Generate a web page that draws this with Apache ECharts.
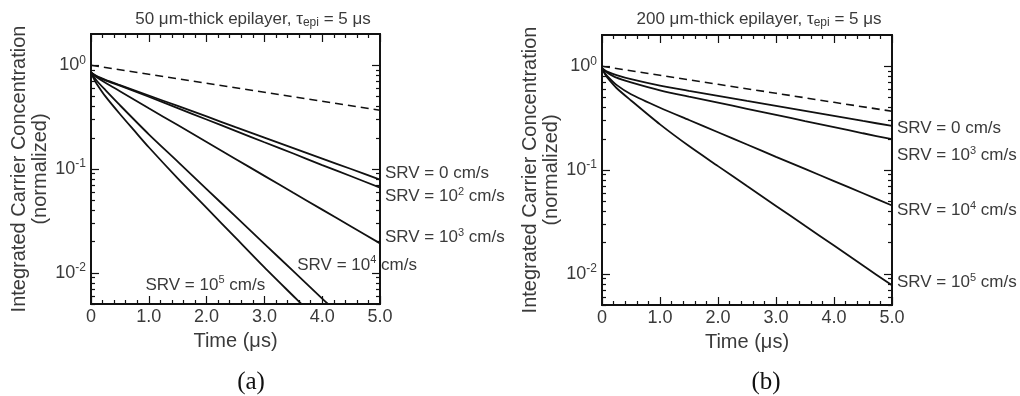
<!DOCTYPE html>
<html>
<head>
<meta charset="utf-8">
<script src="https://cdn.jsdelivr.net/npm/echarts@6/dist/echarts.min.js"></script>
<style>
  html, body { margin: 0; padding: 0; background: #ffffff; }
  #chart { width: 1020px; height: 396px; }
</style>
</head>
<body>
<div id="chart"></div>
<script>
// Decade ticks and 2..9 minor ticks of the log concentration axis
const decadeTicks = [0.01, 0.1, 1];
const minorLogTicks = [
  0.005, 0.006, 0.007, 0.008, 0.009,
  0.02, 0.03, 0.04, 0.05, 0.06, 0.07, 0.08, 0.09,
  0.2, 0.3, 0.4, 0.5, 0.6, 0.7, 0.8, 0.9
];

// Panel (a): 50 µm-thick epilayer — [time (µs), normalized concentration]
const aBulk = [[0, 1.0], [1, 0.819], [2, 0.670], [3, 0.549], [4, 0.449], [5, 0.368]];
const aSrv0 = [[0, 0.851], [0.1, 0.785], [0.25, 0.724], [0.5, 0.644], [1, 0.511], [1.5, 0.405],
  [2, 0.321], [2.5, 0.253], [3, 0.201], [3.5, 0.159], [4, 0.126], [4.5, 0.100], [5, 0.079]];
const aSrv1e2 = [[0, 0.851], [0.1, 0.776], [0.25, 0.716], [0.5, 0.635], [1, 0.497], [1.5, 0.386],
  [2, 0.300], [2.5, 0.233], [3, 0.181], [3.5, 0.141], [4, 0.109], [4.5, 0.0851], [5, 0.0661]];
const aSrv1e3 = [[0, 0.851], [0.1, 0.767], [0.25, 0.679], [0.5, 0.562], [1, 0.385], [1.5, 0.265],
  [2, 0.182], [2.5, 0.125], [3, 0.0859], [3.5, 0.0590], [4, 0.0406], [4.5, 0.0279], [5, 0.0192]];
const aSrv1e4 = [[0, 0.851], [0.1, 0.708], [0.25, 0.575], [0.5, 0.412], [1, 0.216], [1.5, 0.118],
  [2, 0.0641], [2.5, 0.0349], [3, 0.0190], [3.5, 0.01035], [4, 0.00564], [4.1, 0.005]];
const aSrv1e5 = [[0, 0.851], [0.05, 0.741], [0.1, 0.661], [0.25, 0.501], [0.5, 0.339], [0.75, 0.234],
  [1, 0.162], [1.5, 0.0813], [2, 0.0422], [2.5, 0.0218], [3, 0.01127], [3.5, 0.00597], [3.64, 0.005]];

// Panel (b): 200 µm-thick epilayer
const bBulk = [[0, 1.0], [1, 0.819], [2, 0.670], [3, 0.549], [4, 0.449], [5, 0.368]];
const bSrv0 = [[0, 0.955], [0.05, 0.912], [0.1, 0.881], [0.25, 0.822], [0.5, 0.750], [1, 0.650],
  [1.5, 0.579], [2, 0.519], [2.5, 0.463], [3, 0.415], [3.5, 0.372], [4, 0.333], [4.5, 0.297], [5, 0.266]];
const bSrv1e3 = [[0, 0.955], [0.05, 0.902], [0.1, 0.861], [0.25, 0.776], [0.5, 0.700], [1, 0.586],
  [1.5, 0.509], [2, 0.446], [2.5, 0.389], [3, 0.340], [3.5, 0.296], [4, 0.259], [4.5, 0.226], [5, 0.198]];
const bSrv1e4 = [[0, 0.955], [0.05, 0.861], [0.1, 0.794], [0.25, 0.661], [0.5, 0.537], [1, 0.398],
  [1.5, 0.303], [2, 0.231], [2.5, 0.176], [3, 0.134], [3.5, 0.1026], [4, 0.0782], [4.5, 0.0597], [5, 0.0455]];
const bSrv1e5 = [[0, 0.955], [0.05, 0.841], [0.1, 0.767], [0.25, 0.617], [0.5, 0.468], [1, 0.275],
  [1.5, 0.170], [2, 0.109], [2.5, 0.0700], [3, 0.0451], [3.5, 0.0290], [4, 0.0187], [4.5, 0.0120], [5, 0.00773]];

// Curve labels: SRV exponent ('' means SRV = 0)
const aLabels = ['', '2', '3', '4', '5'];
const bLabels = ['', '3', '4', '5'];

const FONT = "'Liberation Sans', Arial, Helvetica, sans-serif";
const TEXT = '#3a3a3a';
const INK = '#111111';

const supRich = {
  t: { fontFamily: FONT, fontSize: 17, color: TEXT },
  s: { fontFamily: FONT, fontSize: 11, color: TEXT, padding: [0, 0, 9, 0] }
};
function srvText(exp) {
  return exp === '' ? '{t|SRV = 0 cm/s}' : '{t|SRV = 10}{s|' + exp + '}{t| cm/s}';
}

function xAxes(g) {
  const common = {
    type: 'value', gridIndex: g, min: 0, max: 5, interval: 1,
    axisLine: { onZero: false, lineStyle: { color: INK, width: 1.8 } },
    axisTick: { inside: true, length: 8, lineStyle: { color: INK, width: 1.2 } },
    minorTick: { show: true, splitNumber: 5, length: 4, lineStyle: { color: INK, width: 1.2 } },
    splitLine: { show: false }
  };
  return [
    Object.assign({}, common, {
      position: 'bottom',
      name: 'Time (μs)', nameLocation: 'middle', nameGap: 27,
      nameTextStyle: { fontFamily: FONT, fontSize: 20, color: TEXT },
      axisLabel: {
        margin: 4, fontFamily: FONT, fontSize: 18, color: TEXT,
        formatter: v => (v === 0 ? '0' : v.toFixed(1))
      }
    }),
    Object.assign({}, common, { position: 'top', axisLabel: { show: false } })
  ];
}

function yAxes(g) {
  const base = {
    type: 'log', logBase: 10, gridIndex: g, min: 0.005, max: 2,
    splitLine: { show: false },
    minorTick: { show: false },
    axisLine: { onZero: false, lineStyle: { color: INK, width: 1.8 } }
  };
  const major = { inside: true, length: 8, customValues: decadeTicks, lineStyle: { color: INK, width: 1.2 } };
  const minor = { inside: true, length: 4, customValues: minorLogTicks, lineStyle: { color: INK, width: 1.2 } };
  return [
    Object.assign({}, base, {
      position: 'left', axisTick: major,
      name: 'Integrated Carrier Concentration\n(normalized)',
      nameLocation: 'middle', nameGap: 37,
      nameTextStyle: { fontFamily: FONT, fontSize: 20, lineHeight: 21, color: TEXT, align: 'center' },
      axisLabel: {
        margin: 5, customValues: decadeTicks,
        formatter: v => '{b|10}{s|' + Math.round(Math.log10(v)) + '}',
        rich: {
          b: { fontFamily: FONT, fontSize: 18, color: TEXT },
          s: { fontFamily: FONT, fontSize: 12, color: TEXT, padding: [0, 0, 10, 0] }
        }
      }
    }),
    Object.assign({}, base, { position: 'left', axisTick: minor, axisLabel: { show: false } }),
    Object.assign({}, base, { position: 'right', axisTick: major, axisLabel: { show: false } }),
    Object.assign({}, base, { position: 'right', axisTick: minor, axisLabel: { show: false } })
  ];
}

function curve(g, data, extra) {
  return Object.assign({
    type: 'line', xAxisIndex: 2 * g, yAxisIndex: 4 * g,
    data: data, showSymbol: false, smooth: 0.25, clip: true,
    lineStyle: { color: INK, width: 1.8 }, silent: true, animation: false
  }, extra || {});
}
function endLab(exp, dy) {
  return { show: true, formatter: srvText(exp), distance: 5, offset: [0, dy], rich: supRich };
}
// Label anchored at a point inside the plot (left edge of the text)
function midLab(t, v, exp) {
  return {
    symbol: 'circle', symbolSize: 1, silent: true, animation: false,
    itemStyle: { color: 'rgba(0,0,0,0)' },
    label: { show: true, position: 'right', distance: 0, formatter: srvText(exp), rich: supRich },
    data: [{ coord: [t, v], value: 0 }]
  };
}

const dashed = { color: INK, width: 1.6, type: [8, 5] };

const option = {
  animation: false,
  backgroundColor: '#ffffff',
  grid: [
    { left: 91, top: 34, width: 289, height: 270 },
    { left: 602, top: 35, width: 290, height: 270 }
  ],
  xAxis: xAxes(0).concat(xAxes(1)),
  yAxis: yAxes(0).concat(yAxes(1)),
  series: [
    curve(0, aBulk, { lineStyle: dashed, smooth: false }),
    curve(0, aSrv0, { endLabel: endLab(aLabels[0], -6) }),
    curve(0, aSrv1e2, { endLabel: endLab(aLabels[1], 9) }),
    curve(0, aSrv1e3, { endLabel: endLab(aLabels[2], -6) }),
    curve(0, aSrv1e4, { markPoint: midLab(3.56, 0.0119, aLabels[3]) }),
    curve(0, aSrv1e5, { markPoint: midLab(0.934, 0.00763, aLabels[4]) }),

    curve(1, bBulk, { lineStyle: dashed, smooth: false }),
    curve(1, bSrv0, { endLabel: endLab(bLabels[0], 2) }),
    curve(1, bSrv1e3, { endLabel: endLab(bLabels[1], 16) }),
    curve(1, bSrv1e4, { endLabel: endLab(bLabels[2], 5) }),
    curve(1, bSrv1e5, { endLabel: endLab(bLabels[3], -3) })
  ],
  graphic: [
    {
      type: 'text', x: 253, y: 19, silent: true,
      style: {
        text: '{t|50 μm-thick epilayer, τ}{sub|epi}{t| = 5 μs}',
        align: 'center', verticalAlign: 'middle',
        rich: {
          t: { fontFamily: FONT, fontSize: 17, fill: TEXT },
          sub: { fontFamily: FONT, fontSize: 12, fill: TEXT, padding: [8, 0, 0, 0] }
        }
      }
    },
    {
      type: 'text', x: 759, y: 19, silent: true,
      style: {
        text: '{t|200 μm-thick epilayer, τ}{sub|epi}{t| = 5 μs}',
        align: 'center', verticalAlign: 'middle',
        rich: {
          t: { fontFamily: FONT, fontSize: 17, fill: TEXT },
          sub: { fontFamily: FONT, fontSize: 12, fill: TEXT, padding: [8, 0, 0, 0] }
        }
      }
    },
    {
      type: 'text', x: 251, y: 382, silent: true,
      style: { text: '(a)', align: 'center', verticalAlign: 'middle',
        font: "25px 'Liberation Serif', 'Times New Roman', serif", fill: '#111' }
    },
    {
      type: 'text', x: 766, y: 382, silent: true,
      style: { text: '(b)', align: 'center', verticalAlign: 'middle',
        font: "25px 'Liberation Serif', 'Times New Roman', serif", fill: '#111' }
    }
  ]
};

const chart = echarts.init(document.getElementById('chart'), null, { renderer: 'canvas' });
chart.setOption(option);
</script>
</body>
</html>
